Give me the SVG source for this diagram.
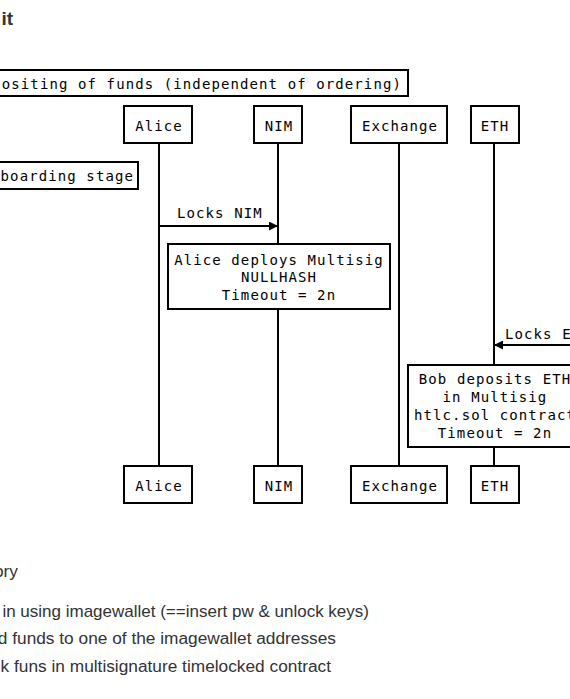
<svg xmlns="http://www.w3.org/2000/svg" width="570" height="699" viewBox="0 0 570 699">
<style>
.bg{fill:#fff}
.box{fill:#fff;stroke:#000;stroke-width:2}
.life{stroke:#000;stroke-width:2;fill:none}
.msg{stroke:#000;stroke-width:2;fill:none}
.mono{font-family:"DejaVu Sans Mono","Liberation Mono",monospace;font-size:14px;letter-spacing:1.1px;fill:#000}
.prose{font-family:"Liberation Sans","Helvetica",Arial,sans-serif;font-size:17.3px;fill:#333}
.title{font-family:"Liberation Sans","Helvetica",Arial,sans-serif;font-size:19px;font-weight:bold;fill:#333}
</style>
<defs>
<marker id="ah" viewBox="0 0 10 10" refX="10" refY="5" markerWidth="11" markerHeight="9" markerUnits="userSpaceOnUse" orient="auto">
<path d="M0,0 L10,5 L0,10 z" fill="#000"/>
</marker>
</defs>
<rect class="bg" x="0" y="0" width="570" height="699"/>
<text class="title" x="13" y="25" text-anchor="end">it</text>

<g id="lifelines">
<line class="life" x1="159" y1="143" x2="159" y2="466"/>
<line class="life" x1="278" y1="143" x2="278" y2="466"/>
<line class="life" x1="399" y1="143" x2="399" y2="466"/>
<line class="life" x1="494" y1="143" x2="494" y2="466"/>
</g>

<g id="group-depositing">
<rect class="box" x="-10" y="70" width="418" height="26"/>
<text class="mono" x="402" y="89" text-anchor="end">ositing of funds (independent of ordering)</text>
</g>

<g id="group-onboarding">
<rect class="box" x="-10" y="162" width="148" height="27"/>
<text class="mono" x="134" y="181" text-anchor="end">boarding stage</text>
</g>

<g id="alice-top">
<rect class="box" x="124" y="106" width="68" height="37"/>
<text class="mono" x="159" y="131" text-anchor="middle">Alice</text>
</g>
<g id="nim-top">
<rect class="box" x="254" y="106" width="48" height="37"/>
<text class="mono" x="279" y="131" text-anchor="middle">NIM</text>
</g>
<g id="exchange-top">
<rect class="box" x="351" y="106" width="96" height="37"/>
<text class="mono" x="400" y="131" text-anchor="middle">Exchange</text>
</g>
<g id="eth-top">
<rect class="box" x="471" y="106" width="48" height="37"/>
<text class="mono" x="495" y="131" text-anchor="middle">ETH</text>
</g>

<g id="connectors">
<line class="msg" x1="159" y1="226" x2="278" y2="226" marker-end="url(#ah)"/>
<text class="mono" x="177" y="218">Locks NIM</text>
<line class="msg" x1="575" y1="345" x2="494" y2="345" marker-end="url(#ah)"/>
<text class="mono" x="505" y="339">Locks ETH</text>
</g>

<g id="note-alice">
<rect class="box" x="168" y="244" width="222" height="65"/>
<text class="mono" x="279" y="265" text-anchor="middle">Alice deploys Multisig</text>
<text class="mono" x="279" y="282" text-anchor="middle">NULLHASH</text>
<text class="mono" x="279" y="300" text-anchor="middle">Timeout = 2n</text>
</g>

<g id="note-bob">
<rect class="box" x="408" y="365" width="180" height="82"/>
<text class="mono" x="495" y="384" text-anchor="middle">Bob deposits ETH</text>
<text class="mono" x="495" y="402" text-anchor="middle">in Multisig</text>
<text class="mono" x="495" y="420" text-anchor="middle">htlc.sol contract</text>
<text class="mono" x="495" y="438" text-anchor="middle">Timeout = 2n</text>
</g>

<g id="alice-bottom">
<rect class="box" x="124" y="466" width="68" height="37"/>
<text class="mono" x="159" y="491" text-anchor="middle">Alice</text>
</g>
<g id="nim-bottom">
<rect class="box" x="254" y="466" width="48" height="37"/>
<text class="mono" x="279" y="491" text-anchor="middle">NIM</text>
</g>
<g id="exchange-bottom">
<rect class="box" x="351" y="466" width="96" height="37"/>
<text class="mono" x="400" y="491" text-anchor="middle">Exchange</text>
</g>
<g id="eth-bottom">
<rect class="box" x="471" y="466" width="48" height="37"/>
<text class="mono" x="495" y="491" text-anchor="middle">ETH</text>
</g>

<text class="prose" x="18" y="577" text-anchor="end">ory</text>
<text class="prose" x="369" y="617" text-anchor="end" style="font-size:17px">in using imagewallet (==insert pw &amp; unlock keys)</text>
<text class="prose" x="336" y="644" text-anchor="end">d funds to one of the imagewallet addresses</text>
<text class="prose" x="331" y="672" text-anchor="end">k funs in multisignature timelocked contract</text>
</svg>
